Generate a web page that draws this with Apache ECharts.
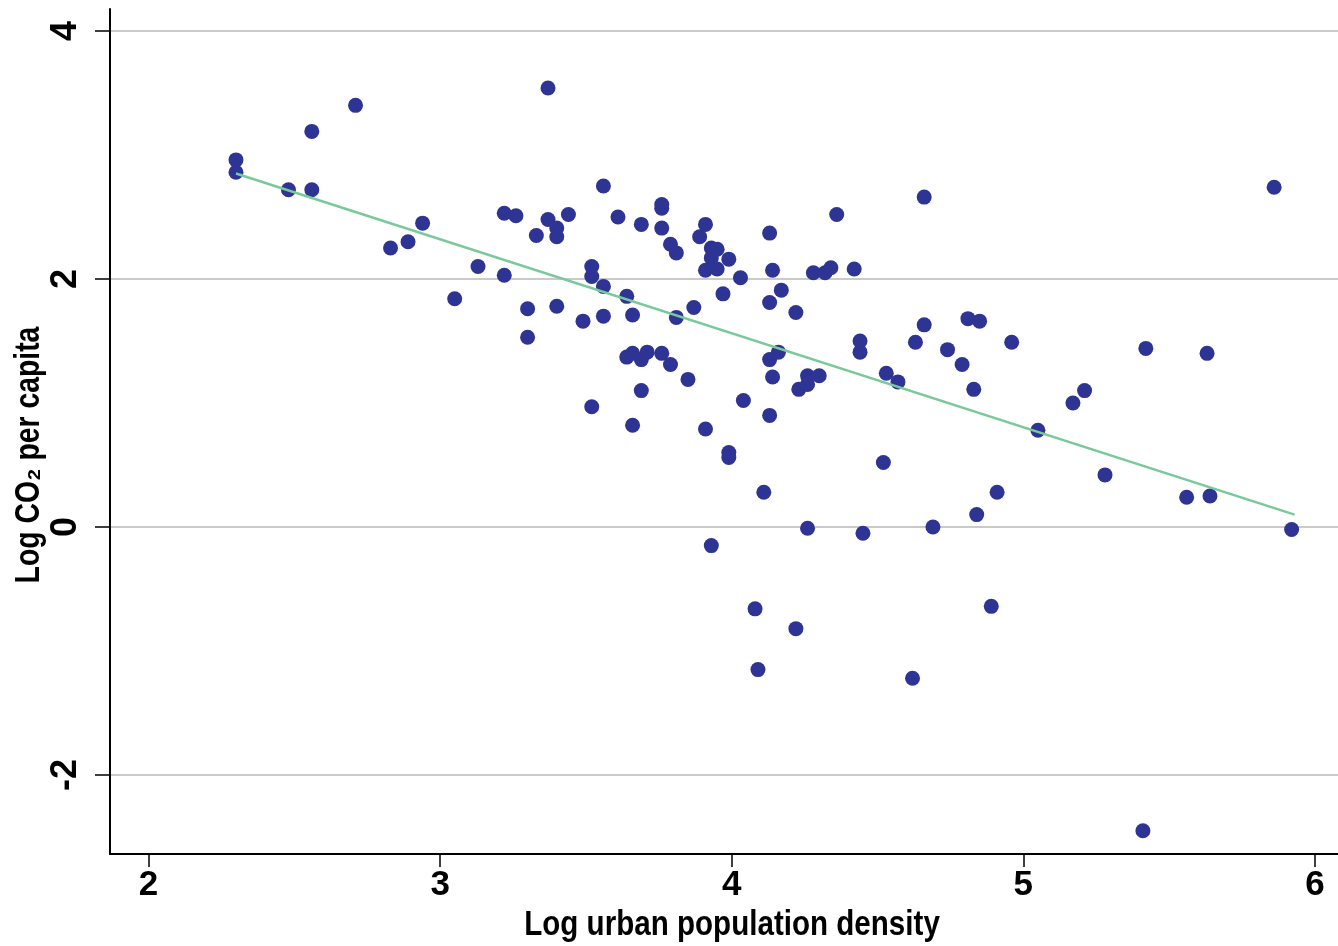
<!DOCTYPE html>
<html>
<head>
<meta charset="utf-8">
<title>Log CO2 per capita vs log urban population density</title>
<script src="https://cdn.jsdelivr.net/npm/echarts@6/dist/echarts.min.js"></script>
<style>
  html, body { margin: 0; padding: 0; background: #fff; }
  #chart { width: 1338px; height: 946px; }
</style>
</head>
<body>
<div id="chart"></div>
<script>
// log urban population density (x) and log CO2 per capita (y), one entry per country
var densityX = [
  2.30, 2.30, 2.48, 2.56, 2.56, 2.71, 2.83, 2.89, 2.94, 3.05,
  3.13, 3.22, 3.26, 3.22, 3.30, 3.30, 3.33, 3.37, 3.37, 3.40,
  3.40, 3.44, 3.40, 3.49, 3.52, 3.52, 3.56, 3.56, 3.56, 3.52,
  3.61, 3.64, 3.66, 3.64, 3.66, 3.69, 3.71, 3.69, 3.69, 3.66,
  3.76, 3.76, 3.76, 3.79, 3.81, 3.76, 3.79, 3.81, 3.85, 3.87,
  3.89, 3.91, 3.91, 3.93, 3.93, 3.95, 3.95, 3.99, 3.97, 4.03,
  3.91, 3.99, 3.99, 3.93, 4.04, 4.08, 4.09, 4.11, 4.13, 4.14,
  4.13, 4.17, 4.13, 4.16, 4.14, 4.13, 4.22, 4.28, 4.32, 4.34,
  4.36, 4.42, 4.26, 4.26, 4.23, 4.30, 4.26, 4.22, 4.44, 4.44,
  4.45, 4.52, 4.53, 4.57, 4.62, 4.63, 4.66, 4.66, 4.69, 4.74,
  4.79, 4.81, 4.85, 4.83, 4.84, 4.89, 4.91, 4.96, 5.05, 5.17,
  5.21, 5.28, 5.42, 5.41, 5.56, 5.63, 5.64, 5.86, 5.92
];
var co2Y = [
  2.96, 2.86, 2.72, 2.72, 3.19, 3.40, 2.25, 2.30, 2.45, 1.84,
  2.10, 2.53, 2.51, 2.03, 1.76, 1.53, 2.35, 3.54, 2.48, 2.41,
  2.34, 2.52, 1.78, 1.66, 2.10, 2.02, 1.94, 2.75, 1.70, 0.97,
  2.50, 1.86, 1.71, 1.37, 1.40, 1.35, 1.41, 2.44, 1.10, 0.82,
  2.60, 2.57, 2.41, 2.28, 2.21, 1.40, 1.31, 1.69, 1.19, 1.77,
  2.34, 2.44, 2.07, 2.25, 2.17, 2.24, 2.08, 2.16, 1.88, 2.01,
  0.79, 0.60, 0.56, -0.15, 1.02, -0.66, -1.15, 0.28, 2.37, 2.07,
  1.81, 1.91, 1.35, 1.41, 1.21, 0.90, 1.73, 2.05, 2.05, 2.09,
  2.52, 2.08, 1.22, 1.15, 1.11, 1.22, -0.01, -0.82, 1.50, 1.41,
  -0.05, 0.52, 1.24, 1.17, -1.22, 1.49, 2.66, 1.63, 0.00, 1.43,
  1.31, 1.68, 1.66, 1.11, 0.10, -0.64, 0.28, 1.49, 0.78, 1.00,
  1.10, 0.42, 1.44, -2.45, 0.24, 1.40, 0.25, 2.74, -0.02
];
// fitted line end points
var fitX = [2.30, 5.93];
var fitY = [2.85, 0.10];

var xTicks = [2, 3, 4, 5, 6];
var yTicks = [-2, 0, 2, 4];

var xTitle = 'Log urban population density';
var yTitle = 'Log CO\u2082 per capita';

var points = densityX.map(function (x, i) { return [x, co2Y[i]]; });
var fitLine = fitX.map(function (x, i) { return [x, fitY[i]]; });

var tickFont = "'Liberation Sans', 'DejaVu Sans', sans-serif";
// the titles are set in a condensed face: squeeze Liberation Sans Bold sideways
var titleFont = "bold 35px 'Liberation Sans', sans-serif";

var myChart = echarts.init(document.getElementById('chart'), null, { renderer: 'canvas' });

var option = {
  backgroundColor: '#fff',
  animation: false,
  grid: { left: 110, right: 0, top: 9, bottom: 92, outerBoundsMode: 'none', containLabel: false },
  xAxis: {
    type: 'value',
    min: 1.868,
    max: 6.079,
    axisLine: { show: true, onZero: false, lineStyle: { color: '#000', width: 2 } },
    axisTick: { show: true, length: 13, customValues: xTicks, lineStyle: { color: '#000', width: 1.5 } },
    axisLabel: {
      customValues: xTicks, margin: 14,
      fontFamily: tickFont, fontWeight: 'bold', fontSize: 35, color: '#000'
    },
    splitLine: { show: false }
  },
  yAxis: {
    type: 'value',
    min: -2.637,
    max: 4.177,
    axisLine: { show: true, onZero: false, lineStyle: { color: '#000', width: 2 } },
    axisTick: { show: true, length: 15, customValues: yTicks, lineStyle: { color: '#000', width: 1.5 } },
    axisLabel: {
      customValues: yTicks, rotate: 90, margin: 26,
      fontFamily: tickFont, fontWeight: 'bold', fontSize: 36, color: '#000'
    },
    splitLine: { show: true, lineStyle: { color: '#b8b8b8', width: 1.5 } }
  },
  graphic: [
    {
      type: 'text',
      x: 732, y: 925,
      scaleX: 0.845,
      style: { text: xTitle, font: titleFont, fill: '#000', align: 'center', verticalAlign: 'middle' }
    },
    {
      type: 'text',
      x: 29, y: 455,
      rotation: Math.PI / 2,
      scaleX: 0.81,
      style: { text: yTitle, font: titleFont, fill: '#000', align: 'center', verticalAlign: 'middle' }
    }
  ],
  series: [
    {
      name: 'fit',
      type: 'line',
      data: fitLine,
      symbol: 'none',
      lineStyle: { color: '#79c99b', width: 2.5 },
      silent: true
    },
    {
      name: 'countries',
      type: 'scatter',
      data: points,
      symbol: 'circle',
      symbolSize: 15,
      itemStyle: { color: '#2e3494', opacity: 1 }
    }
  ]
};

myChart.setOption(option);
</script>
</body>
</html>
